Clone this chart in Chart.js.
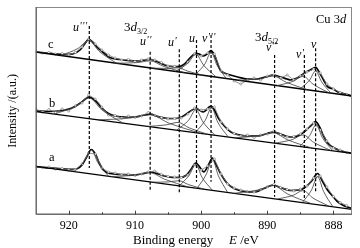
<!DOCTYPE html>
<html>
<head>
<meta charset="utf-8">
<script src="https://cdn.jsdelivr.net/npm/chart.js@4.4.1/dist/chart.umd.min.js"></script>
<style>
html,body{margin:0;padding:0;background:#fff;}
#wrap{width:360px;height:248px;}
</style>
</head>
<body>
<div id="wrap"><canvas id="c" width="360" height="248"></canvas></div>
<script>
// ---------- data ----------
const xTickValues = [920, 910, 900, 890, 880];
const xTickLabels = ['920', '910', '900', '890', '888'];
const xMinorTicks = [915, 905, 895, 885];

const peakNames = ["u'''", "u''", "u'", "u", "v'''", "v''", "v'", "v"];
const peakPositions = [916.9, 907.7, 903.3, 900.7, 898.5, 888.9, 884.4, 882.7];
const peakLineTop = [189, 163.3, 165.7, 175, 180, 160, 160, 166.7];
const peakLineBottom = [47, 25, 21.7, 33.3, 33.3, 18.3, 15, 21.7];

const rawEnergy = [925,924,923,922,921,920,919,918,917,916,915,914,913,912,911,910,909,908,907,906,905,904,903,902,901,900,899,898,897,896,895,894,893,892,891,890,889,888,887,886,885,884,883,882,881,880,879,878];
const rawC = [163.5,162,162.5,161,161.5,160,162.5,168,176,171,165,160,157,155,155.5,153.5,155,156,155,152.5,149,148.5,147,153,161,159,162,161,144,140,134,131,135,137,135,139,140,137,140,135,139,143,146,142,131,126,122.5,120.5];
const rawB = [106,103,105.5,102.5,106,104,109,112,120,116,108,100,99.5,97,99,97.5,99,102.5,99.5,97.5,96,96.5,97,101,107,105,106,108,93,86,81.5,79,80,77.5,80,81,84,80.5,78,78.5,81,86,92,85,74,67,65,62.5];
const rawA = [48.5,47.5,48,46,46.5,45,45.5,51,62,61,47,43,42,40,41,39.5,41,43,44,40.5,38.5,38,37.5,40,50,45,49,56,41,31,27,25,23.5,23,25.5,28,30.5,27.5,25.5,24,26,29,37,39,28,18.5,12.5,9.5];

const envC = [[925,163],[922.5,161.5],[920.5,160.5],[919.4,161],[918.3,165],[917.6,171],[917.0,175.7],[916.4,173],[915.6,167],[914.7,162],[913.8,157.5],[912.3,155.5],[910.8,154.3],[909.5,154],[908.5,155],[907.7,155.7],[906.7,153.5],[905.5,150],[904.5,148.5],[903.5,148.3],[902.5,151],[901.7,157],[901.2,160],[900.8,161.7],[900.3,161],[899.7,159],[899.1,161],[898.5,164.3],[898.0,160],[897.1,145],[896.5,142],[895.6,140],[894.5,138],[893.0,136],[891.5,136],[890.3,138],[889.1,140],[888.0,138],[887.0,136],[886.5,135],[885.5,137],[884.4,141.7],[883.5,145],[882.7,147.7],[882.0,141],[881.5,135],[880.9,128.3],[880.0,126],[879.4,123.3],[878.2,121],[877.2,119]];
const envB = [[925,104],[923,103.5],[921,104.5],[919.5,107],[918,113],[917,117.8],[916,114.5],[915,107],[914,101.5],[913,99],[911.5,98],[910,98],[908.5,100],[907.7,100.8],[906.5,98.5],[905,96.5],[903.8,96.5],[902.8,98.5],[901.8,103],[900.8,106.7],[899.7,103],[898.5,109],[898.0,105],[897.4,97],[896.5,89],[895.5,83],[894.5,80.5],[893,79],[891.5,79],[890,81.5],[889.1,83],[888,81],[887,78.5],[886,78],[885,80.5],[884.2,84.5],[883.3,90],[882.7,93.3],[882.1,88],[881.5,79],[880.8,71.5],[880,67.5],[879,64.5],[877.2,61.7]];
const envA = [[925,48.3],[921.5,46.5],[919.4,45.7],[918.8,46],[918.0,50],[917.3,58],[916.6,65.5],[915.9,60],[915.4,52],[914.7,44.5],[913.8,41.5],[912,40.5],[910.5,40],[909,41],[907.7,43],[906.5,41],[905.5,39],[904,37.5],[903.2,37.5],[902.3,39.5],[901.6,45],[900.8,52],[900.0,46],[899.6,43],[898.9,50],[898.3,57],[897.7,50],[897.1,42],[896.1,32],[895,26.5],[893.5,23.5],[892,23],[890.5,26.5],[889.1,30],[888,27.5],[886.5,24.5],[885.3,25],[884.4,27],[883.3,34],[882.4,41.5],[881.6,33],[880.9,25],[880,18],[879.4,13.5],[878.5,9.5],[877.2,6.7]];

const baseC = [[925,163],[877.2,119]];
const baseB = [[925,103.3],[877.2,61.7]];
const baseA = [[925,48.7],[877.2,5.7]];

const compC = [
  [[921.2,159.5],[918.6,166.6],[917.0,174.6],[915.4,163.6],[912.8,151.8]],
  [[912.9,151.8],[909.7,152.4],[907.7,154.1],[905.7,148.7],[902.5,142.3]],
  [[907.4,146.8],[905.0,146.6],[903.5,147.2],[902.0,143.8],[899.6,139.6]],
  [[903.9,143.6],[902.0,151.8],[900.8,160.7],[899.6,149.6],[897.7,137.9]],
  [[900.8,140.7],[899.4,151.4],[898.5,162.6],[897.6,149.8],[896.2,136.5]],
  [[894.3,134.7],[891.1,136.3],[889.1,138.9],[887.1,132.6],[883.9,125.2]],
  [[888.5,129.4],[886.1,133.7],[884.6,138.8],[883.1,130.9],[880.7,122.2]],
  [[885.0,126.2],[883.6,134.9],[882.7,144.1],[881.8,133.2],[880.4,121.9]]
];
const compB = [
  [[922.2,100.9],[919.0,108.6],[917.0,117.3],[915.0,105.1],[911.8,91.8]],
  [[915.6,95.1],[910.8,96.9],[907.8,100.3],[904.8,91.7],[900.0,81.5]],
  [[908.1,88.6],[905.3,90.1],[903.5,92.6],[901.8,87.1],[899.0,80.7]],
  [[903.7,84.8],[901.9,94.7],[900.8,105.2],[899.7,92.8],[897.9,79.7]],
  [[900.9,82.3],[899.4,94.5],[898.4,107.1],[897.5,92.9],[895.9,78.0]],
  [[895.0,77.2],[891.4,79.1],[889.1,82.1],[886.9,75.1],[883.3,67.0]],
  [[888.8,71.8],[886.2,75.5],[884.6,80.1],[883.0,72.7],[880.4,64.5]],
  [[885.1,68.6],[883.6,79.3],[882.6,90.4],[881.7,77.6],[880.1,64.2]]
];
const compA = [
  [[919.2,43.5],[917.6,54.1],[916.6,65.2],[915.6,52.3],[914.0,38.8]],
  [[913.6,38.5],[910.0,39.7],[907.7,42.2],[905.5,35.7],[901.9,27.9]],
  [[907.3,32.8],[904.9,33.1],[903.4,34.3],[901.9,30.4],[899.5,25.8]],
  [[903.3,29.2],[901.8,39.8],[900.8,50.9],[899.9,38.1],[898.3,24.7]],
  [[900.6,26.8],[899.2,41.0],[898.3,55.7],[897.4,39.4],[896.0,22.6]],
  [[895.0,21.7],[891.4,25.0],[889.1,29.4],[886.9,20.9],[883.3,11.2]],
  [[888.5,15.9],[886.1,19.7],[884.6,24.4],[883.1,17.0],[880.7,8.9]],
  [[884.7,12.5],[883.3,25.2],[882.4,38.4],[881.5,23.6],[880.1,8.3]]
];

// ---------- build datasets ----------
const SERIF = '"Liberation Serif", "Times New Roman", serif';
const pts = arr => arr.map(p => ({x: p[0], y: p[1]}));
const datasets = [];

peakPositions.forEach((p, i) => {
  datasets.push({
    label: peakNames[i] + ' line',
    data: [{x: p, y: peakLineTop[i]}, {x: p, y: peakLineBottom[i]}],
    borderColor: '#000', borderWidth: 1.2, borderDash: [3, 2],
    pointRadius: 0, fill: false
  });
});

[[compA, baseA, rawA, envA], [compB, baseB, rawB, envB], [compC, baseC, rawC, envC]].forEach(([comps, base, raw, env]) => {
  comps.forEach((c, k) => datasets.push({
    label: 'comp ' + peakNames[k], data: pts(c), borderColor: '#3a3a3a', borderWidth: 0.8,
    pointRadius: 0, cubicInterpolationMode: 'monotone', fill: false
  }));
  datasets.push({
    label: 'baseline', data: pts(base), borderColor: '#000', borderWidth: 1.3, pointRadius: 0, fill: false
  });
  datasets.push({
    label: 'raw', data: raw.map((v, i) => ({x: rawEnergy[i], y: v})),
    borderColor: '#777', borderWidth: 0.8, pointRadius: 1.1, pointStyle: 'circle',
    pointBackgroundColor: '#fff', pointBorderColor: '#777', pointBorderWidth: 0.6, fill: false
  });
  datasets.push({
    label: 'envelope', data: pts(env), borderColor: '#000', borderWidth: 1.7,
    pointRadius: 0, cubicInterpolationMode: 'monotone', fill: false
  });
});

// ---------- text plugin ----------
function drawRich(ctx, x, y, segs) {
  let cx = x;
  segs.forEach(s => {
    ctx.font = s.f;
    ctx.fillText(s.t, cx, y + (s.dy || 0));
    cx += ctx.measureText(s.t).width + (s.gap || 0);
  });
}
const it = sz => 'italic ' + sz + 'px ' + SERIF;
const rg = sz => sz + 'px ' + SERIF;
const primes = n => Array.from({length: n}, () => ({t: "'", f: it(10), dy: -2, gap: 0.6}));

const textPlugin = {
  id: 'xpsText',
  afterDraw(chart) {
    const {ctx, chartArea: a, scales} = chart;
    ctx.save();
    // frame
    ctx.lineWidth = 1;
    ctx.strokeStyle = '#888';
    ctx.strokeRect(a.left + 0.5, a.top + 0.5, a.right - a.left - 1, a.bottom - a.top - 1);
    ctx.strokeStyle = '#555';
    ctx.beginPath();
    ctx.moveTo(a.left + 0.5, a.top); ctx.lineTo(a.left + 0.5, a.bottom - 0.5); ctx.lineTo(a.right, a.bottom - 0.5);
    ctx.stroke();
    // inward ticks
    ctx.strokeStyle = '#444';
    ctx.beginPath();
    xTickValues.forEach(v => { const px = Math.round(scales.x.getPixelForValue(v)) + 0.5; ctx.moveTo(px, a.bottom); ctx.lineTo(px, a.bottom - 4); });
    xMinorTicks.forEach(v => { const px = Math.round(scales.x.getPixelForValue(v)) + 0.5; ctx.moveTo(px, a.bottom); ctx.lineTo(px, a.bottom - 2.5); });
    ctx.stroke();

    ctx.fillStyle = '#000';
    ctx.textBaseline = 'alphabetic';
    ctx.textAlign = 'left';
    drawRich(ctx, 73, 31, [{t: 'u', f: it(12), gap: 0.5}, ...primes(3)]);
    drawRich(ctx, 124, 31, [{t: '3', f: rg(13)}, {t: 'd', f: it(13)}, {t: '3/2', f: rg(8), dy: 3}]);
    drawRich(ctx, 140, 45, [{t: 'u', f: it(12), gap: 0.5}, ...primes(2)]);
    drawRich(ctx, 168, 46, [{t: 'u', f: it(12), gap: 0.5}, ...primes(1)]);
    drawRich(ctx, 189, 42, [{t: 'u', f: it(12)}]);
    drawRich(ctx, 202, 42, [{t: 'v', f: it(12), gap: 0.5}, ...primes(3)]);
    drawRich(ctx, 255, 41, [{t: '3', f: rg(13)}, {t: 'd', f: it(13)}, {t: '5/2', f: rg(8), dy: 3}]);
    drawRich(ctx, 266, 51, [{t: 'v', f: it(12), gap: 0.5}, ...primes(2)]);
    drawRich(ctx, 296, 58, [{t: 'v', f: it(12), gap: 0.5}, ...primes(1)]);
    drawRich(ctx, 311, 48, [{t: 'v', f: it(12)}]);
    drawRich(ctx, 316, 23, [{t: 'Cu 3', f: rg(12.5)}, {t: 'd', f: it(12.5)}]);
    drawRich(ctx, 48, 48, [{t: 'c', f: rg(12.5)}]);
    drawRich(ctx, 49, 107, [{t: 'b', f: rg(12.5)}]);
    drawRich(ctx, 49, 161, [{t: 'a', f: rg(12.5)}]);
    // x title
    drawRich(ctx, 133, 244, [{t: 'Binding energy', f: rg(13)}]);
    drawRich(ctx, 229, 244, [{t: 'E', f: it(13)}, {t: ' /eV', f: rg(13)}]);
    ctx.restore();
  }
};

new Chart(document.getElementById('c'), {
  type: 'line',
  data: {datasets},
  options: {
    responsive: false, animation: false, devicePixelRatio: 1,
    layout: {padding: {top: 7, right: 8, left: 0, bottom: 0}},
    plugins: {legend: {display: false}, tooltip: {enabled: false}},
    elements: {line: {tension: 0}},
    scales: {
      x: {
        type: 'linear', reverse: true, min: 877.2, max: 925,
        afterBuildTicks: s => { s.ticks = xTickValues.map(v => ({value: v})); },
        afterFit: s => { s.height = 33.3; },
        grid: {display: false, drawTicks: false, tickLength: 0},
        border: {display: false},
        ticks: {
          padding: 4, color: '#000', autoSkip: false, maxRotation: 0,
          font: {family: SERIF, size: 12},
          callback: v => { const i = xTickValues.indexOf(v); return i >= 0 ? xTickLabels[i] : ''; }
        }
      },
      y: {
        type: 'linear', min: 0.3, max: 208,
        afterFit: s => { s.width = 35.7; },
        grid: {display: false, drawTicks: false, tickLength: 0},
        border: {display: false},
        ticks: {display: false},
        title: {display: true, text: 'Intensity /(a.u.)', color: '#000', font: {family: SERIF, size: 12}, padding: {top: 6, bottom: 0}}
      }
    }
  },
  plugins: [textPlugin]
});
</script>
</body>
</html>
